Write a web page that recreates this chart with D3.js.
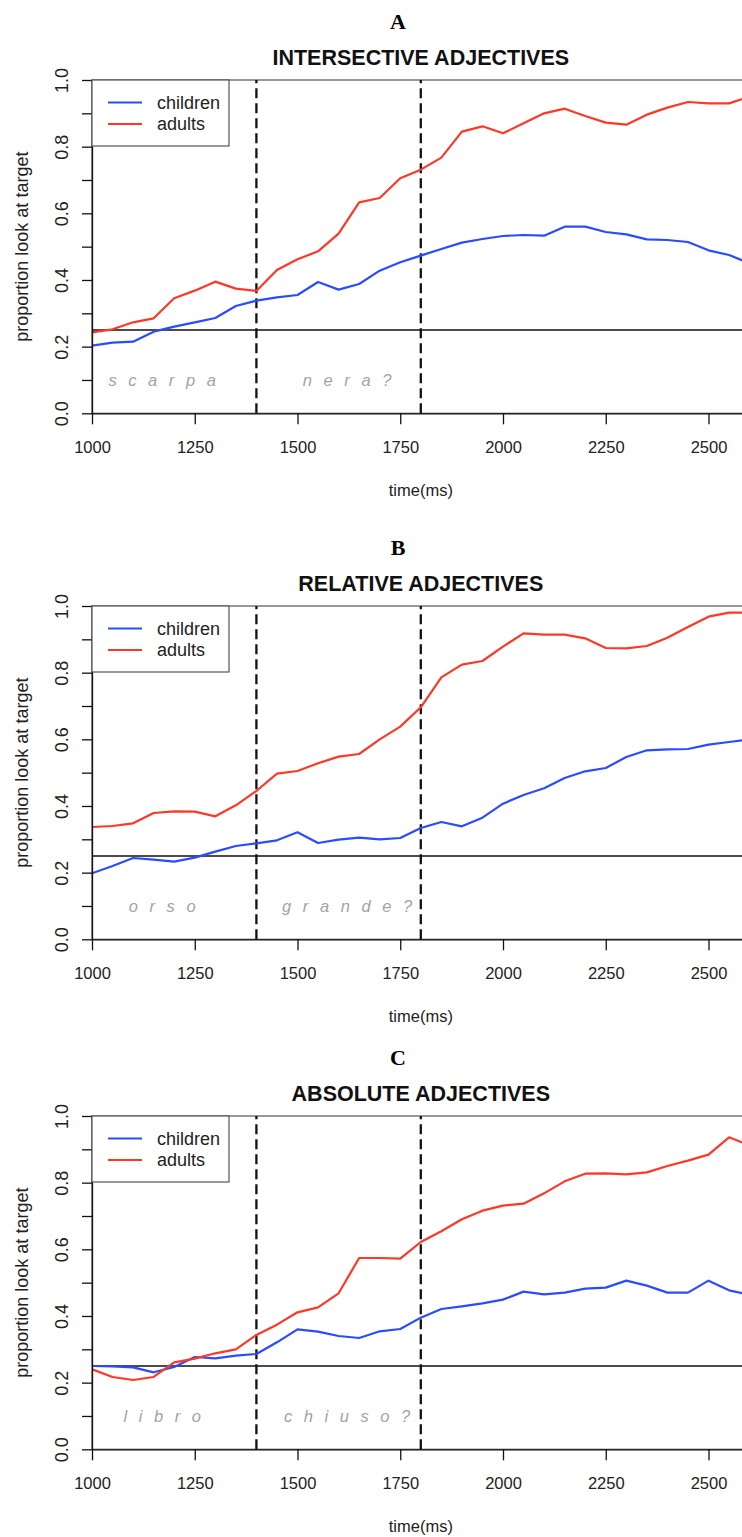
<!DOCTYPE html>
<html><head><meta charset="utf-8">
<script src="https://cdn.jsdelivr.net/npm/d3@7"></script>
<style>body{margin:0;background:#fff}svg{display:block}</style>
</head><body><svg id="c" width="742" height="1537"></svg>
<script>
// ---- data ----
const timePoints = [1000,1050,1100,1150,1200,1250,1300,1350,1400,1450,1500,1550,1600,1650,1700,1750,1800,
  1850,1900,1950,2000,2050,2100,2150,2200,2250,2300,2350,2400,2450,2500,2550,2600];
const panelLetters = ["A","B","C"];
const panelTitles = ["INTERSECTIVE ADJECTIVES","RELATIVE ADJECTIVES","ABSOLUTE ADJECTIVES"];
const nounWords = ["s c a r p a","o r s o","l i b r o"];
const adjWords = ["n e r a ?","g r a n d e ?","c h i u s o ?"];
const seriesNames = ["children","adults"];
const childrenA = [0.203,0.212,0.215,0.245,0.260,0.273,0.286,0.322,0.338,0.348,0.355,0.394,0.371,0.388,0.428,0.453,0.473,
  0.493,0.512,0.523,0.532,0.535,0.533,0.560,0.560,0.544,0.537,0.522,0.520,0.514,0.489,0.475,0.450];
const adultsA = [0.243,0.252,0.273,0.285,0.345,0.368,0.395,0.374,0.367,0.430,0.462,0.486,0.539,0.633,0.646,0.705,0.731,
  0.767,0.845,0.861,0.840,0.870,0.900,0.914,0.892,0.872,0.866,0.896,0.917,0.934,0.930,0.930,0.950];
const childrenB = [0.198,0.220,0.244,0.239,0.233,0.245,0.263,0.280,0.288,0.297,0.321,0.289,0.299,0.305,0.300,0.304,0.334,
  0.352,0.339,0.365,0.407,0.433,0.453,0.484,0.504,0.514,0.547,0.567,0.570,0.571,0.584,0.592,0.600];
const adultsB = [0.337,0.340,0.348,0.379,0.384,0.383,0.369,0.402,0.445,0.497,0.505,0.528,0.548,0.556,0.600,0.638,0.696,
  0.786,0.824,0.835,0.878,0.918,0.914,0.914,0.903,0.874,0.873,0.880,0.905,0.937,0.968,0.980,0.980];
const childrenC = [0.250,0.249,0.246,0.231,0.247,0.277,0.273,0.281,0.286,0.321,0.360,0.353,0.340,0.334,0.354,0.361,0.395,
  0.421,0.429,0.438,0.449,0.473,0.465,0.470,0.482,0.485,0.506,0.491,0.470,0.470,0.506,0.477,0.464];
const adultsC = [0.240,0.217,0.208,0.217,0.261,0.272,0.288,0.300,0.343,0.374,0.411,0.426,0.468,0.574,0.574,0.572,0.622,
  0.654,0.690,0.716,0.731,0.737,0.768,0.804,0.827,0.828,0.825,0.831,0.850,0.866,0.884,0.936,0.912];
const childrenSeries = [childrenA, childrenB, childrenC];
const adultsSeries = [adultsA, adultsB, adultsC];
const xTicks = [1000,1250,1500,1750,2000,2250,2500];
const yTicks = [0,0.1,0.2,0.3,0.4,0.5,0.6,0.7,0.8,0.9,1.0];
const yTickLabels = ["0.0","","0.2","","0.4","","0.6","","0.8","","1.0"];
const chanceLevel = 0.25;
const wordOnsets = [1400,1800];
const wordCenters = [1175,1625];
const wordLabelY = 0.1;

// ---- layout ----
const panelTops = [80,606,1116];
const plotH = 333.3;
const colors = {children:"#2a4cff", adults:"#ff3826"};
const FONT = "'Liberation Sans', Arial, Helvetica, sans-serif";
const svg = d3.select("#c");
const x = d3.scaleLinear().domain([1000,2600]).range([92,749.6]);
const cx = (x.range()[0]+x.range()[1])/2;

panelLetters.forEach((letter,i)=>{
  const top = panelTops[i];
  const y = d3.scaleLinear().domain([0,1]).range([top+plotH, top]);
  const g = svg.append("g");
  const clipId = "clip"+i;
  svg.append("defs").append("clipPath").attr("id",clipId)
    .append("rect").attr("x",x.range()[0]).attr("y",top).attr("width",x.range()[1]-x.range()[0]).attr("height",plotH);

  // panel letter + title
  g.append("text").attr("x",398).attr("y",top-51).attr("text-anchor","middle")
    .attr("font-family","'Liberation Serif','Times New Roman',serif").attr("font-weight","bold")
    .attr("font-size",22).attr("fill","#000").text(letter);
  g.append("text").attr("x",cx).attr("y",top-15).attr("text-anchor","middle")
    .attr("font-family",FONT).attr("font-weight","bold").attr("font-size",21.5)
    .attr("fill","#111").text(panelTitles[i]);

  // box
  g.append("rect").attr("x",x.range()[0]).attr("y",top).attr("width",x.range()[1]-x.range()[0]).attr("height",plotH)
    .attr("fill","none").attr("stroke","#555").attr("stroke-width",1.2);

  // chance line
  g.append("line").attr("x1",x.range()[0]).attr("x2",x.range()[1]).attr("y1",y(chanceLevel)).attr("y2",y(chanceLevel))
    .attr("stroke","#111").attr("stroke-width",1.3);

  // word onset dashed lines
  wordOnsets.forEach(t=>{
    g.append("line").attr("x1",x(t)).attr("x2",x(t)).attr("y1",y(0)).attr("y2",y(1))
      .attr("stroke","#111").attr("stroke-width",2.3).attr("stroke-dasharray","10,5");
  });

  // word labels
  [nounWords[i], adjWords[i]].forEach((w,k)=>{
    g.append("text").attr("x",x(wordCenters[k])).attr("y",y(wordLabelY)).attr("text-anchor","middle")
      .attr("dominant-baseline","central").attr("font-family",FONT).attr("font-style","italic")
      .attr("font-size",16.5).attr("letter-spacing","3.5px").attr("fill","#a3a3a3").text(w);
  });

  // series
  const line = d3.line().x((d,j)=>x(timePoints[j])).y(d=>y(d));
  const lg = g.append("g").attr("clip-path",`url(#${clipId})`);
  lg.append("path").attr("d",line(childrenSeries[i])).attr("fill","none")
    .attr("stroke",colors.children).attr("stroke-width",2.2).attr("stroke-linejoin","round");
  lg.append("path").attr("d",line(adultsSeries[i])).attr("fill","none")
    .attr("stroke",colors.adults).attr("stroke-width",2.2).attr("stroke-linejoin","round");

  // axes
  const ya = g.append("g").attr("transform",`translate(${x.range()[0]},0)`)
    .call(d3.axisLeft(y).tickValues(yTicks).tickFormat((d,j)=>yTickLabels[j]).tickSize(10).tickSizeOuter(0));
  ya.select(".domain").attr("stroke","#111").attr("stroke-width",1.3);
  ya.selectAll(".tick line").attr("stroke","#111").attr("stroke-width",1.3);
  ya.selectAll(".tick text").attr("x",0).attr("dy",0).attr("text-anchor","middle")
    .attr("transform","translate(-24,0) rotate(-90)")
    .attr("font-family",FONT).attr("font-size",18).attr("fill","#222");

  const xa = g.append("g").attr("transform",`translate(0,${y(0)})`)
    .call(d3.axisBottom(x).tickValues(xTicks).tickFormat(d3.format("d")).tickSize(11).tickSizeOuter(0));
  xa.select(".domain").attr("stroke","#111").attr("stroke-width",1.3);
  xa.selectAll(".tick line").attr("stroke","#111").attr("stroke-width",1.3);
  xa.selectAll(".tick text").attr("y",40).attr("dy",0)
    .attr("font-family",FONT).attr("font-size",16.5).attr("fill","#222");

  // axis titles
  g.append("text").attr("x",cx).attr("y",y(0)+83).attr("text-anchor","middle")
    .attr("font-family",FONT).attr("font-size",16.5).attr("fill","#222").text("time(ms)");
  g.append("text").attr("transform",`translate(28,${(y(0)+y(1))/2}) rotate(-90)`).attr("text-anchor","middle")
    .attr("font-family",FONT).attr("font-size",18).attr("fill","#222").text("proportion look at target");

  // legend
  const leg = g.append("g");
  leg.append("rect").attr("x",x.range()[0]).attr("y",top).attr("width",137).attr("height",66)
    .attr("fill","#fff").attr("stroke","#555").attr("stroke-width",1.2);
  seriesNames.forEach((s,k)=>{
    const ly = top + 22.5 + k*21.5;
    leg.append("line").attr("x1",108).attr("x2",142).attr("y1",ly).attr("y2",ly)
      .attr("stroke",colors[s]).attr("stroke-width",2.2);
    leg.append("text").attr("x",157).attr("y",ly).attr("dominant-baseline","central")
      .attr("font-family",FONT).attr("font-size",18).attr("fill","#222").text(s);
  });
});
</script></body></html>
